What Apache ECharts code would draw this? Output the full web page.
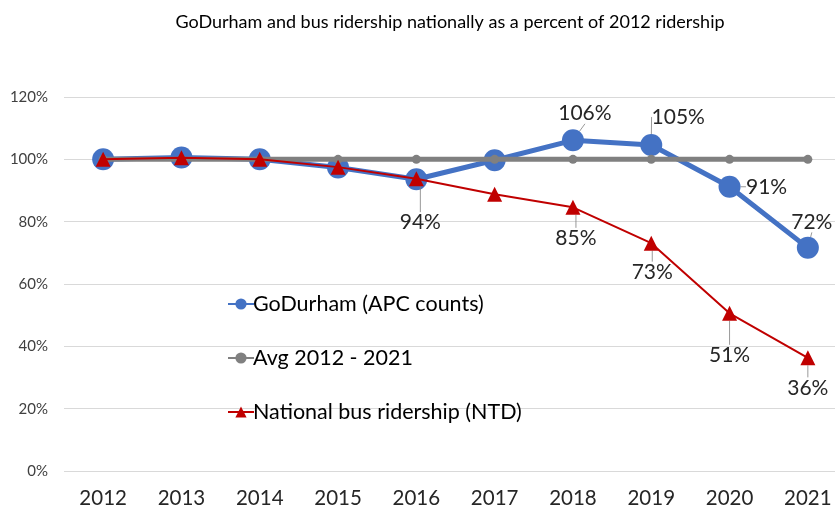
<!DOCTYPE html>
<html>
<head>
<meta charset="utf-8">
<script src="https://cdn.jsdelivr.net/npm/echarts@6/dist/echarts.min.js"></script>
<style>
  html, body { margin: 0; padding: 0; background: #fff; }
  #main { width: 835px; height: 514px; }
</style>
</head>
<body>
<div id="main"></div>
<script>
// data (percent of 2012 ridership)
var years = ['2012', '2013', '2014', '2015', '2016', '2017', '2018', '2019', '2020', '2021'];
var goDurham = [100, 100.6, 100, 97.4, 93.6, 99.7, 106.1, 104.6, 91.2, 71.6];
var avgLine = [100, 100, 100, 100, 100, 100, 100, 100, 100, 100];
var national = [100, 100.5, 100, 97.5, 93.8, 88.8, 84.6, 73.1, 50.6, 36.3];
var yTicks = [0, 20, 40, 60, 80, 100, 120];

// which points carry a label, and where the label sits (offset from the point)
var goLabels = { 6: [12, -27], 7: [27, -28], 8: [37, 0], 9: [4, -26] };
var natLabels = { 4: [4, 44], 6: [3, 31], 7: [1, 29], 8: [0, 42], 9: [0, 30] };

var font = 'Lato, "Liberation Sans", sans-serif';

function withLabels(values, labels) {
  return values.map(function (v, i) {
    if (labels[i]) {
      return { value: v, label: { show: true } };
    }
    return v;
  });
}

function layoutFrom(labels) {
  return function (params) {
    var o = labels[params.dataIndex];
    if (!o) return {};
    return { dx: o[0], dy: o[1] };
  };
}

var labelStyle = {
  show: false,
  position: 'inside',
  formatter: function (p) { return Math.round(p.value) + '%'; },
  fontFamily: font,
  fontSize: 21,
  color: '#262626'
};

var myChart = echarts.init(document.getElementById('main'));

var option = {
  animation: false,
  title: {
    text: 'GoDurham and bus ridership nationally as a percent of 2012 ridership',
    left: 445,
    textAlign: 'center',
    top: 8,
    textStyle: { fontFamily: font, fontSize: 18, fontWeight: 'normal', color: '#000' }
  },
  legend: {
    orient: 'vertical',
    left: 222,
    top: 288,
    itemGap: 32,
    itemWidth: 26,
    itemHeight: 14,
    textStyle: { fontFamily: font, fontSize: 21.5, color: '#000', padding: [0, 0, 0, -6] },
    data: ['GoDurham (APC counts)', 'Avg 2012 - 2021', 'National bus ridership (NTD)']
  },
  grid: { left: 64, top: 97, width: 783, height: 374, outerBoundsMode: 'none' },
  xAxis: {
    type: 'category',
    data: years,
    axisLine: { show: false },
    axisTick: { show: false },
    axisLabel: { fontFamily: font, fontSize: 20.5, color: '#262626', margin: 17 }
  },
  yAxis: {
    type: 'value',
    min: yTicks[0],
    max: yTicks[yTicks.length - 1],
    interval: 20,
    axisLabel: { formatter: '{value}%', fontFamily: font, fontSize: 15, color: '#404040', margin: 16 },
    splitLine: { lineStyle: { color: '#d9d9d9', width: 1 } }
  },
  series: [
    {
      name: 'GoDurham (APC counts)',
      type: 'line',
      data: withLabels(goDurham, goLabels),
      symbol: 'circle',
      symbolSize: 22,
      itemStyle: { color: '#4472C4' },
      lineStyle: { color: '#4472C4', width: 5 },
      label: labelStyle,
      labelLayout: layoutFrom(goLabels),
      labelLine: { show: true, lineStyle: { color: '#7f7f7f', width: 0.8 } },
      z: 2
    },
    {
      name: 'Avg 2012 - 2021',
      type: 'line',
      data: avgLine,
      symbol: 'circle',
      symbolSize: 9,
      itemStyle: { color: '#808080' },
      lineStyle: { color: '#808080', width: 5 },
      z: 3
    },
    {
      name: 'National bus ridership (NTD)',
      type: 'line',
      data: withLabels(national, natLabels),
      symbol: 'triangle',
      symbolSize: 15,
      itemStyle: { color: '#C00000' },
      lineStyle: { color: '#C00000', width: 2 },
      label: labelStyle,
      labelLayout: layoutFrom(natLabels),
      labelLine: { show: true, lineStyle: { color: '#7f7f7f', width: 0.8 } },
      z: 4
    }
  ]
};

myChart.setOption(option);
</script>
</body>
</html>
